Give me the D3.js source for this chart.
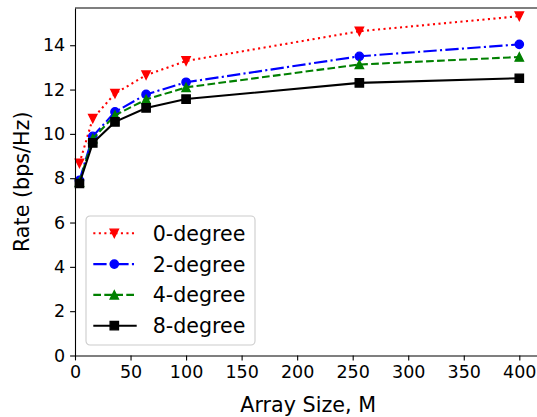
<!DOCTYPE html>
<html>
<head>
<meta charset="utf-8">
<script src="https://cdn.jsdelivr.net/npm/d3@7.9.0/dist/d3.min.js"></script>
<style>
  body { margin: 0; background: #fff; }
  svg { display: block; font-family: "DejaVu Sans", sans-serif; }
</style>
</head>
<body>
<div id="chart"></div>
<script>
// array sizes on the x axis
const arraySizes = [4, 16, 36, 64, 100, 256, 400];

// rate (bps/Hz) per angular spread
const rate0deg = [8.67, 10.69, 11.82, 12.65, 13.29, 14.63, 15.31];
const rate2deg = [7.90, 9.89, 10.99, 11.78, 12.33, 13.50, 14.04];
const rate4deg = [7.82, 9.78, 10.84, 11.55, 12.10, 13.13, 13.47];
const rate8deg = [7.76, 9.59, 10.54, 11.17, 11.57, 12.30, 12.51];

const seriesNames = ['0-degree', '2-degree', '4-degree', '8-degree'];
const xTicks = [0, 50, 100, 150, 200, 250, 300, 350, 400];
const yTicks = [0, 2, 4, 6, 8, 10, 12, 14];

const width = 537, height = 417;
const lw = 2.08;

const series = [
  { name: seriesNames[0], values: rate0deg, color: '#ff0000', dash: '2.08,3.44', marker: 'tridown' },
  { name: seriesNames[1], values: rate2deg, color: '#0000ff', dash: '13.3,3.3,2.1,3.3', marker: 'circle' },
  { name: seriesNames[2], values: rate4deg, color: '#008000', dash: '7.7,3.3', marker: 'triup' },
  { name: seriesNames[3], values: rate8deg, color: '#000000', dash: null, marker: 'square' },
];

const plot = { left: 75, right: 541.3, top: 8, bottom: 355.5 };

const x = d3.scaleLinear().domain([0, 419.8]).range([plot.left, plot.right]);
const y = d3.scaleLinear().domain([0, 15.68]).range([plot.bottom, plot.top]);

const svg = d3.select('#chart').append('svg')
  .attr('width', width)
  .attr('height', height);

// marker shapes, size ~8.3px like matplotlib's default
const ms = 8.3;
function markerPath(kind) {
  const h = ms / 2;
  if (kind === 'tridown') return `M0,${h}L${-h},${-h}L${h},${-h}Z`;
  if (kind === 'triup') return `M0,${-h}L${-h},${h}L${h},${h}Z`;
  if (kind === 'square') return `M${-h},${-h}H${h}V${h}H${-h}Z`;
  return d3.symbol(d3.symbolCircle, Math.PI * h * h)();
}

const line = d3.line()
  .x((d, i) => x(arraySizes[i]))
  .y(d => y(d));

const lines = svg.append('g').attr('class', 'series');
series.forEach(s => {
  const g = lines.append('g');
  g.append('path')
    .datum(s.values)
    .attr('d', line)
    .attr('fill', 'none')
    .attr('stroke', s.color)
    .attr('stroke-width', lw)
    .attr('stroke-dasharray', s.dash);
  g.selectAll('path.mk')
    .data(s.values)
    .join('path')
    .attr('class', 'mk')
    .attr('transform', (d, i) => `translate(${x(arraySizes[i])},${y(d)})`)
    .attr('d', markerPath(s.marker))
    .attr('fill', s.color)
    .attr('stroke', s.color)
    .attr('stroke-width', 1.39);
});

// axes
const xAxis = svg.append('g')
  .attr('transform', `translate(0,${plot.bottom})`)
  .call(d3.axisBottom(x).tickValues(xTicks).tickSizeInner(4.9).tickSizeOuter(0).tickPadding(4.9));

const yAxis = svg.append('g')
  .attr('transform', `translate(${plot.left},0)`)
  .call(d3.axisLeft(y).tickValues(yTicks).tickSizeInner(4.9).tickSizeOuter(0).tickPadding(4.9));

[xAxis, yAxis].forEach(a => {
  a.select('.domain').attr('stroke', '#000').attr('stroke-width', 1.1);
  a.selectAll('.tick line').attr('stroke', '#000').attr('stroke-width', 1.1);
  a.selectAll('.tick text')
    .attr('fill', '#000')
    .style('font-family', '"DejaVu Sans", sans-serif')
    .style('font-size', '17.5px');
});

// top spine
svg.append('line')
  .attr('x1', plot.left).attr('x2', plot.right)
  .attr('y1', plot.top).attr('y2', plot.top)
  .attr('stroke', '#000').attr('stroke-width', 1.1);

// axis labels
svg.append('text')
  .attr('x', (plot.left + plot.right) / 2)
  .attr('y', 411.5)
  .attr('text-anchor', 'middle')
  .style('font-size', '20.7px')
  .text('Array Size, M');

svg.append('text')
  .attr('transform', `translate(29,${(plot.top + plot.bottom) / 2}) rotate(-90)`)
  .attr('text-anchor', 'middle')
  .style('font-size', '20.7px')
  .text('Rate (bps/Hz)');

// legend
const legend = svg.append('g').attr('transform', 'translate(86,216)');
legend.append('rect')
  .attr('width', 169).attr('height', 129)
  .attr('rx', 4).attr('ry', 4)
  .attr('fill', '#fff').attr('fill-opacity', 0.8)
  .attr('stroke', '#cccccc').attr('stroke-width', 1.1);

series.forEach((s, i) => {
  const cy = 17.3 + i * 30.8;
  const row = legend.append('g').attr('transform', `translate(0,${cy})`);
  row.append('line')
    .attr('x1', 7.3).attr('x2', 50.7)
    .attr('stroke', s.color)
    .attr('stroke-width', lw)
    .attr('stroke-dasharray', s.dash);
  row.append('path')
    .attr('transform', 'translate(28.3,0)')
    .attr('d', markerPath(s.marker))
    .attr('fill', s.color)
    .attr('stroke', s.color)
    .attr('stroke-width', 1.39);
  row.append('text')
    .attr('x', 66.7)
    .attr('y', 7.4)
    .style('font-size', '20.6px')
    .text(s.name);
});
</script>
</body>
</html>
